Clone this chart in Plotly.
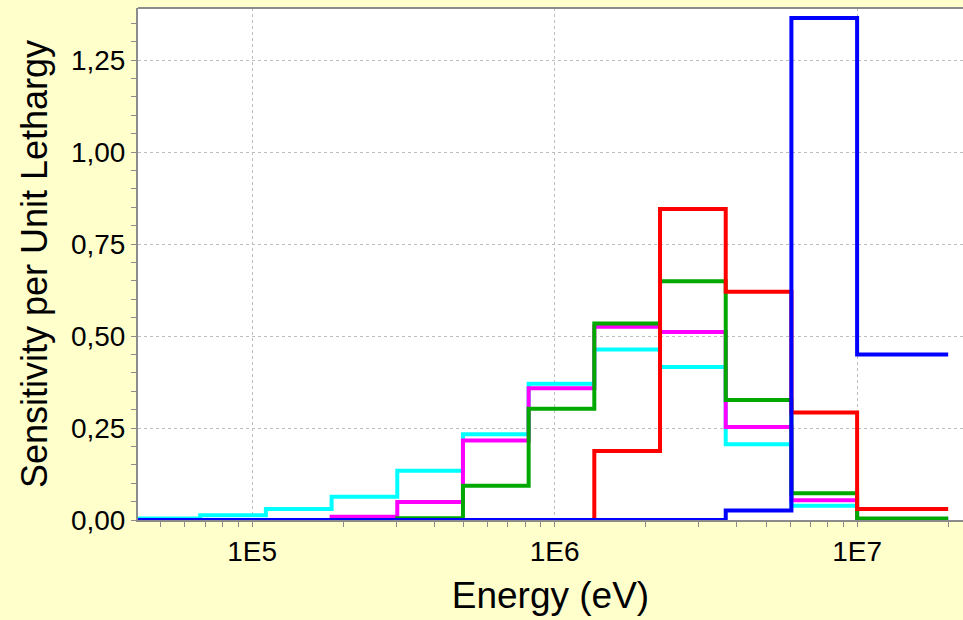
import plotly.graph_objects as go

# Energy group boundaries (eV)
edges = [4.087e4, 6.738e4, 1.111e5, 1.832e5, 3.020e5, 4.979e5, 8.209e5,
         1.353e6, 2.231e6, 3.679e6, 6.065e6, 1.0e7, 2.0e7]

# Sensitivity per unit lethargy in each group
cyan_vals = [0.004, 0.013, 0.030, 0.063, 0.134, 0.233, 0.370, 0.463, 0.416, 0.206, 0.039, 0.002]
magenta_vals = [0.0, 0.0, 0.0, 0.009, 0.049, 0.216, 0.358, 0.525, 0.511, 0.253, 0.054, 0.003]
green_vals = [0.0, 0.0, 0.0, 0.0, 0.005, 0.093, 0.302, 0.534, 0.649, 0.326, 0.073, 0.004]
red_vals = [0.0, 0.0, 0.0, 0.0, 0.0, 0.0, 0.0, 0.1875, 0.845, 0.620, 0.292, 0.030]
blue_vals = [0.0, 0.0, 0.0, 0.0, 0.0, 0.0, 0.0, 0.0, 0.0, 0.026, 1.364, 0.450]

x_tick_vals = [1e5, 1e6, 1e7]
x_tick_text = ["1E5", "1E6", "1E7"]

series = [
    ("cyan", cyan_vals, "#00FFFF"),
    ("magenta", magenta_vals, "#FF00FF"),
    ("green", green_vals, "#00A800"),
    ("red", red_vals, "#FF0000"),
    ("blue", blue_vals, "#0000FF"),
]

fig = go.Figure()
for name, vals, col in series:
    fig.add_trace(go.Scatter(
        x=edges, y=vals + [vals[-1]], mode="lines", line_shape="hv",
        line=dict(color=col, width=4), name=name, showlegend=False,
        hoverinfo="skip"))

minor_x = [d * 10 ** e for e in range(4, 8) for d in range(2, 10)]

font_family = "Liberation Sans, Arial, sans-serif"
axis_gray = "#8c8c8c"

fig.update_layout(
    width=963, height=620,
    margin=dict(l=138, r=0, t=8, b=100),
    paper_bgcolor="#FFFFCC",
    plot_bgcolor="#FFFFFF",
    separators=",.",
    font=dict(family=font_family, color="#000000"),
    xaxis=dict(
        type="log", range=[4.623, 7.350],
        tickmode="array", tickvals=x_tick_vals, ticktext=x_tick_text,
        tickfont=dict(size=28, family=font_family),
        ticks="outside", ticklen=5, tickcolor=axis_gray, tickwidth=1,
        minor=dict(tickmode="array", tickvals=minor_x, ticks="outside",
                   ticklen=5, tickcolor=axis_gray, tickwidth=1, showgrid=False),
        showline=True, linecolor=axis_gray, linewidth=2,
        showgrid=True, gridcolor="#bdbdbd", gridwidth=1, griddash="dot",
        zeroline=False,
        title=dict(text="Energy (eV)", font=dict(size=37, family=font_family), standoff=17),
    ),
    yaxis=dict(
        range=[0, 1.3913], tickmode="linear", tick0=0, dtick=0.25,
        tickformat=".2f",
        tickfont=dict(size=28, family=font_family),
        ticks="outside", ticklen=5, tickcolor=axis_gray, tickwidth=1,
        minor=dict(dtick=0.05, ticks="outside", ticklen=5, tickcolor=axis_gray,
                   tickwidth=1, showgrid=False),
        showline=True, linecolor=axis_gray, linewidth=2,
        showgrid=True, gridcolor="#bdbdbd", gridwidth=1, griddash="dot",
        zeroline=False,
        title=dict(text="Sensitivity per Unit Lethargy", font=dict(size=36, family=font_family), standoff=12),
    ),
    shapes=[dict(type="line", xref="paper", yref="paper", x0=0, x1=1, y0=1, y1=1,
                 line=dict(color=axis_gray, width=2))],
)

fig.write_html(
    "out.html",
    config={"displayModeBar": False},
    post_script="document.body.style.margin='0';document.body.style.background='#FFFFCC';",
)
